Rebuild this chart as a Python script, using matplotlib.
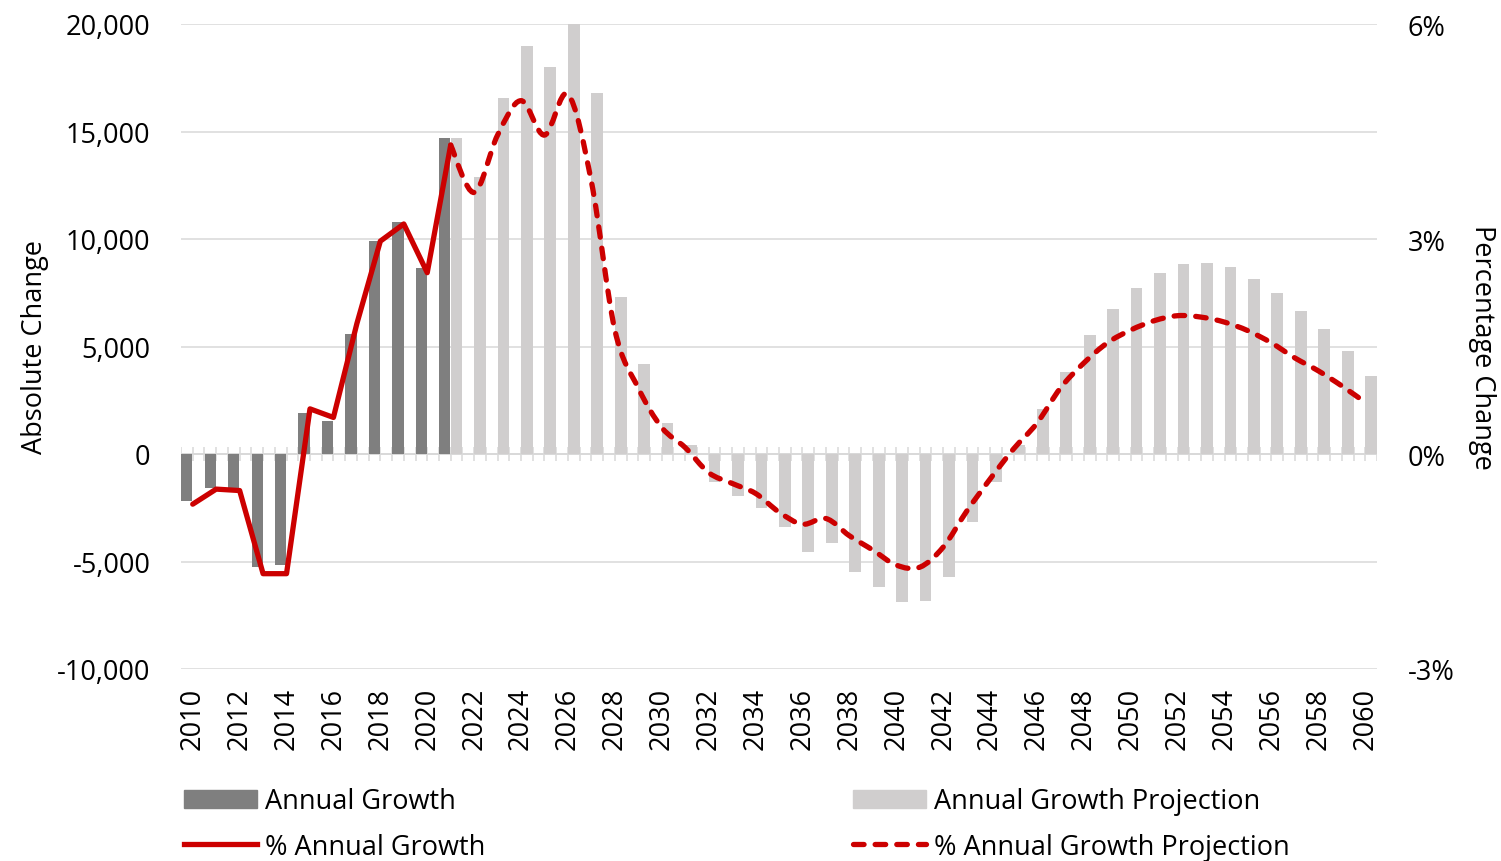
import numpy as np
import matplotlib
matplotlib.use("Agg")
import matplotlib.pyplot as plt
from matplotlib.path import Path
from matplotlib.patches import PathPatch, Patch
from matplotlib.lines import Line2D
from matplotlib.ticker import FuncFormatter

plt.rcParams['font.family'] = ['Open Sans', 'DejaVu Sans']

# Data
years = list(range(2010, 2061))

# absolute change, actual (2010-2021)
growth_years = list(range(2010, 2022))
growth = [-2200, -1600, -1650, -5250, -5150, 1900, 1550, 5600, 9900, 10800, 8650, 14700]

# absolute change, projection (2021-2060)
proj_years = list(range(2021, 2061))
proj = [14700, 12900, 16550, 19000, 18000, 20100, 16800, 7300, 4200, 1450,
        400, -1300, -1950, -2500, -3400, -4550, -4150, -5500, -6200, -6900,
        -6850, -5700, -3150, -1300, 400, 2100, 3800, 5550, 6750, 7700,
        8400, 8850, 8900, 8700, 8150, 7500, 6650, 5800, 4800, 3650]

# percentage change, actual (2010-2021)
pct = [-0.70, -0.49, -0.51, -1.67, -1.67, 0.63, 0.51, 1.82, 2.97, 3.21, 2.53, 4.31]

# percentage change, projection (2021-2060)
pct_proj = [4.31, 3.65, 4.45, 4.93, 4.45, 5.02, 3.80, 1.73, 0.92, 0.37,
            0.09, -0.26, -0.41, -0.55, -0.81, -0.98, -0.90, -1.14, -1.34, -1.55,
            -1.58, -1.30, -0.80, -0.35, 0.07, 0.43, 0.92, 1.27, 1.55, 1.73,
            1.86, 1.93, 1.91, 1.84, 1.72, 1.55, 1.34, 1.16, 0.95, 0.72]

DARK = '#7f7f7f'
LIGHT = '#d0cece'
RED = '#cc0000'
GRID = '#d9d9d9'
FS = 19.5
LW = 3.8
DASH = (0, (2.0, 2.1))


def smooth_path(xs, ys):
    # excel-style smoothed line (bezier through every point)
    pts = np.column_stack([xs, ys]).astype(float)
    n = len(pts)
    verts = [pts[0]]
    codes = [Path.MOVETO]
    for i in range(n - 1):
        p0 = pts[i - 1] if i > 0 else pts[i]
        p1 = pts[i]
        p2 = pts[i + 1]
        p3 = pts[i + 2] if i + 2 < n else pts[i + 1]
        verts += [p1 + (p2 - p0) / 6, p2 - (p3 - p1) / 6, p2]
        codes += [Path.CURVE4] * 3
    return Path(verts, codes)


fig = plt.figure(figsize=(15.01, 8.62), dpi=100)
ax = fig.add_axes([181 / 1501, 1 - 670 / 862, 1196 / 1501, 645 / 862])

xi = {y: i for i, y in enumerate(years)}
gx = np.array([xi[y] for y in growth_years])
px = np.array([xi[y] for y in proj_years])

# gridlines + category axis on zero
ax.set_ylim(-10000, 20000)
ax.set_yticks(range(-10000, 20001, 5000))
ax.yaxis.set_major_formatter(FuncFormatter(lambda v, p: f'{int(v):,}'))
ax.grid(axis='y', color=GRID, lw=1.1, zorder=0)
ax.set_axisbelow(True)
ax.axhline(0, color=GRID, lw=1.4, zorder=1)
edges = np.arange(-0.5, len(years), 0.5)
ax.vlines(edges, -330, 330, color=GRID, lw=1.1, zorder=1)

ax.bar(gx - 0.25, growth, width=0.48, color=DARK, zorder=2)
ax.bar(px + 0.25, proj, width=0.5, color=LIGHT, zorder=2)

ax.set_xlim(-0.5, len(years) - 0.5)
ax.set_xticks(range(0, len(years), 2))
ax.set_xticklabels([str(y) for y in years[::2]], rotation=90, fontsize=FS)
ax.tick_params(axis='x', length=0, pad=13)
ax.tick_params(axis='y', length=0, pad=22, labelsize=FS)
for s in ax.spines.values():
    s.set_visible(False)
ax.set_ylabel('Absolute Change', fontsize=FS, labelpad=6)

ax2 = ax.twinx()
ax2.set_ylim(-3, 6)
ax2.set_yticks([-3, 0, 3, 6])
ax2.set_yticklabels(['-3%', '0%', '3%', '6%'])
ax2.tick_params(axis='y', length=0, pad=22, labelsize=FS)
for s in ax2.spines.values():
    s.set_visible(False)
ax2.set_ylabel('Percentage Change', fontsize=FS, rotation=-90, labelpad=30)

ax2.plot(gx, pct, color=RED, lw=LW, solid_capstyle='round', zorder=4)
dash = PathPatch(smooth_path(px, pct_proj), fill=False, edgecolor=RED, lw=LW,
                 linestyle=DASH, capstyle='round', zorder=4)
ax2.add_patch(dash)

# legend, two blocks
h1 = [Patch(color=DARK), Line2D([], [], color=RED, lw=LW)]
h2 = [Patch(color=LIGHT), Line2D([], [], color=RED, lw=LW, linestyle=DASH,
                                 dash_capstyle='round')]
common = dict(loc='center left', frameon=False, fontsize=FS, handlelength=2.7,
              handleheight=0.68, handletextpad=0.3, labelspacing=0.63,
              borderpad=0, borderaxespad=0)
fig.legend(h1, ['Annual Growth', '% Annual Growth'],
           bbox_to_anchor=(184 / 1501, 1 - 825 / 862), **common)
fig.legend(h2, ['Annual Growth Projection', '% Annual Growth Projection'],
           bbox_to_anchor=(853 / 1501, 1 - 825 / 862), **common)

fig.savefig('out.png', dpi=100)
